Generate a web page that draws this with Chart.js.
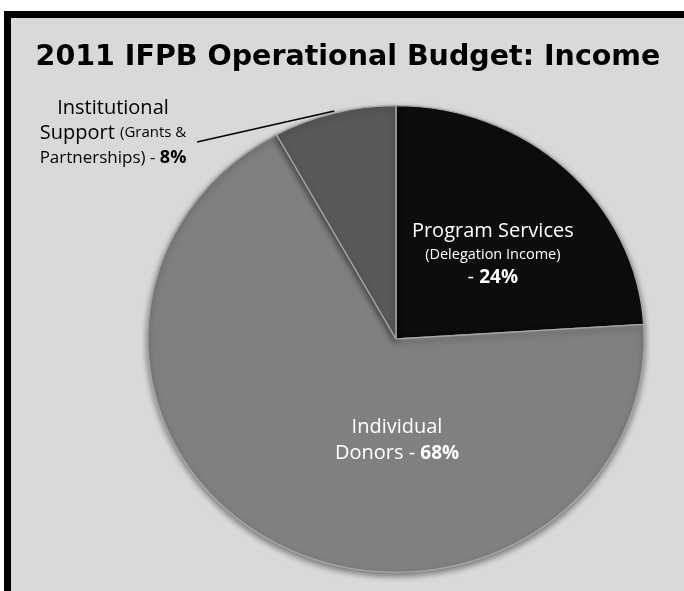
<!DOCTYPE html>
<html>
<head>
<meta charset="utf-8">
<script src="https://cdn.jsdelivr.net/npm/chart.js@4"></script>
<style>
  body { margin: 0; background: #fff; }
  #frame {
    position: absolute; left: 4px; top: 11px; width: 673px; height: 573px;
    background: #d9d9d9; border-left: 7px solid #000; border-top: 7px solid #000;
  }
  #wrap { position: absolute; left: 0; top: 0; width: 684px; height: 591px; }
</style>
</head>
<body>
<div id="frame"></div>
<div id="wrap"><canvas id="pieChart"></canvas></div>
<script>
const categories = ["Program Services", "Individual Donors", "Institutional Support"];
const shares = [24, 68, 8];
const sliceColors = ["#0d0d0d", "#808080", "#595959"];
const titleText = "2011 IFPB Operational Budget: Income";

const squash = 0.94;
const labelFont = "'Open Sans', sans-serif";

const ellipsePlugin = {
    id: "ellipse",
    beforeDatasetsDraw(chart) {
        const a = chart.getDatasetMeta(0).data[0];
        const c = chart.ctx;
        c.save();
        c.translate(a.x, a.y);
        c.scale(1, squash);
        c.translate(-a.x, -a.y);
        c.shadowColor = "rgba(0,0,0,0.45)";
        c.shadowBlur = 6;
        c.shadowOffsetY = 3;
    },
    afterDatasetsDraw(chart) {
        chart.ctx.restore();
    }
};

function drawLine(c, parts, x, y) {
    let total = 0;
    parts.forEach(p => { c.font = p.f; total += c.measureText(p.t).width; });
    let cx = x - total / 2;
    parts.forEach(p => {
        c.font = p.f;
        c.fillText(p.t, cx, y);
        cx += c.measureText(p.t).width;
    });
}

const labelPlugin = {
    id: "labels",
    afterDraw(chart) {
        const c = chart.ctx;
        const arcs = chart.getDatasetMeta(0).data;
        const cx = arcs[0].x, cy = arcs[0].y, r = arcs[0].outerRadius;
        c.save();
        c.textAlign = "left";
        c.textBaseline = "middle";

        // title
        c.fillStyle = "#000";
        c.font = "bold 28.5px 'DejaVu Sans'";
        c.textAlign = "center";
        c.fillText(titleText, 348, 58);
        c.textAlign = "left";

        // Program Services
        c.fillStyle = "#fff";
        const px = cx + r * 0.39, py = cy - r * 0.34;
        drawLine(c, [{ t: "Program Services", f: "20px " + labelFont }], px, py - 23);
        drawLine(c, [{ t: "(Delegation Income)", f: "14.5px " + labelFont }], px, py);
        drawLine(c, [{ t: "- ", f: "20px " + labelFont }, { t: shares[0] + "%", f: "bold 19px " + labelFont }], px, py + 23);

        // Individual Donors
        const dx = cx + 1, dy = cy + r * 0.41;
        drawLine(c, [{ t: "Individual", f: "20px " + labelFont }], dx, dy - 13);
        drawLine(c, [{ t: "Donors - ", f: "20px " + labelFont }, { t: shares[1] + "%", f: "bold 19px " + labelFont }], dx, dy + 13);

        // Institutional Support (outside, with leader line)
        const a = arcs[2];
        const mid = (a.startAngle + a.endAngle) / 2;
        const ex = cx + Math.cos(mid) * r;
        const ey = cy + Math.sin(mid) * r * squash;
        c.strokeStyle = "#000";
        c.lineWidth = 1.5;
        c.beginPath();
        c.moveTo(197, 142);
        c.lineTo(ex, ey - 2);
        c.stroke();

        c.fillStyle = "#000";
        drawLine(c, [{ t: "Institutional", f: "20px " + labelFont }], 113, 108);
        drawLine(c, [{ t: "Support ", f: "20px " + labelFont }, { t: "(Grants &", f: "15px " + labelFont }], 113, 133);
        drawLine(c, [{ t: "Partnerships) - ", f: "17px " + labelFont }, { t: shares[2] + "%", f: "bold 18px " + labelFont }], 113, 158);
        c.restore();
    }
};

new Chart(document.getElementById("pieChart"), {
    type: "pie",
    data: {
        labels: categories,
        datasets: [{
            data: shares,
            backgroundColor: sliceColors,
            borderColor: "#a6a6a6",
            borderWidth: 1.5
        }]
    },
    options: {
        responsive: true,
        maintainAspectRatio: false,
        animation: false,
        layout: { padding: { left: 147, right: 39, top: 90, bottom: 3 } },
        plugins: {
            legend: { display: false },
            tooltip: { enabled: false }
        }
    },
    plugins: [ellipsePlugin, labelPlugin]
});
</script>
</body>
</html>
